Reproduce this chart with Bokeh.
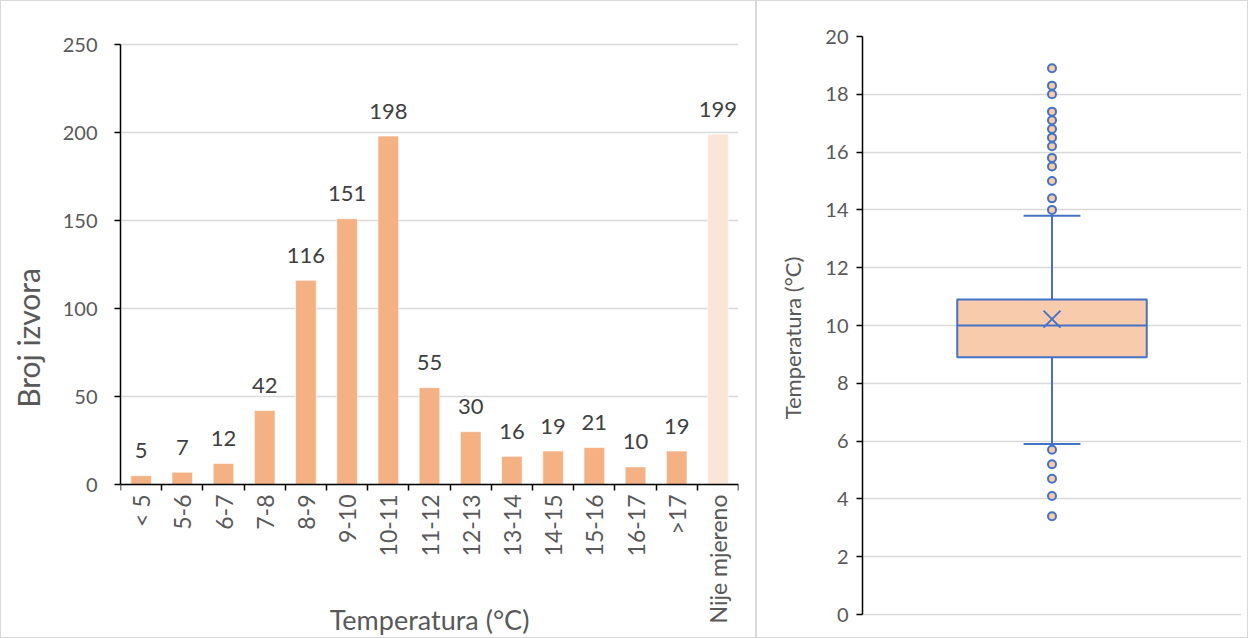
import math
from bokeh.plotting import figure
from bokeh.layouts import row
from bokeh.models import (FixedTicker, CustomJSTickFormatter,
                          ColumnDataSource, Range1d)
from bokeh.core.properties import value
from bokeh.embed import file_html
from bokeh.resources import INLINE

# ---------------- data ----------------
categories = ["< 5", "5-6", "6-7", "7-8", "8-9", "9-10", "10-11", "11-12",
              "12-13", "13-14", "14-15", "15-16", "16-17", ">17", "Nije mjereno"]
counts = [5, 7, 12, 42, 116, 151, 198, 55, 30, 16, 19, 21, 10, 19, 199]
not_measured_label = "Nije mjereno"
x_title = "Temperatura (°C)"
y_title_left = "Broj izvora"
y_title_right = "Temperatura (°C)"

y_ticks_left = [0, 50, 100, 150, 200, 250]
y_ticks_right = [0, 2, 4, 6, 8, 10, 12, 14, 16, 18, 20]

q1 = [8.9]
median = [10.0]
q3 = [10.9]
mean = [10.22]
whisker_low = [5.9]
whisker_high = [13.8]
outliers = [18.9, 18.3, 18.0, 17.4, 17.1, 16.8, 16.5, 16.2, 15.8, 15.5, 15.0, 14.4, 14.0,
            5.7, 5.2, 4.7, 4.1, 3.4]

FONT = "Lato"
AX_COL = "#595959"
LBL_COL = "#404040"
BAR = "#F4B183"
BAR_LIGHT = "#FBE5D6"
BLUE = "#4472C4"
BOX_FILL = "#F8CBAD"
GRID = "#D9D9D9"

# shared layout geometry (pixels): both frames span FRAME_TOP .. H
H = 638
FRAME_TOP = 35

# ---------------- left: histogram ----------------
n = len(categories)
xs = [i + 0.5 for i in range(n)]
colors = [BAR_LIGHT if c == not_measured_label else BAR for c in categories]
src = ColumnDataSource(dict(x=xs, top=counts, color=colors,
                            label=[str(v) for v in counts]))

L_TOP_PX, L_ZERO_PX, L_MAX = 43, 483, 250
l_ppu = (L_ZERO_PX - L_TOP_PX) / L_MAX
left_range = Range1d(-(H - L_ZERO_PX) / l_ppu, L_MAX + (L_TOP_PX - FRAME_TOP) / l_ppu)

p = figure(width=756, height=H, output_backend="svg", toolbar_location=None,
           x_range=Range1d(0, n), y_range=left_range,
           min_border_left=119, min_border_right=19, min_border_top=FRAME_TOP,
           min_border_bottom=0)
p.outline_line_color = None
p.background_fill_color = "white"
p.border_fill_color = "white"
p.styles = {"border": "1px solid #D9D9D9", "box-sizing": "border-box"}

p.vbar(x="x", top="top", width=0.5, bottom=0, color="color",
       line_color="white", line_alpha=0.6, source=src)
p.text(x="x", y="top", text="label", source=src, text_align="center",
       text_baseline="alphabetic", y_offset=-25, text_font=value(FONT),
       text_font_size="22px", text_color=LBL_COL)

p.xgrid.visible = False
p.ygrid.grid_line_color = GRID
p.ygrid.grid_line_width = 1.5
p.ygrid.ticker = FixedTicker(ticks=y_ticks_left)

ya = p.yaxis[0]
ya.ticker = FixedTicker(ticks=y_ticks_left)
ya.bounds = (0, L_MAX)
ya.axis_label = y_title_left
ya.axis_label_text_font = FONT
ya.axis_label_text_font_size = "30px"
ya.axis_label_text_font_style = "normal"
ya.axis_label_text_color = AX_COL
ya.axis_label_standoff = 14
ya.major_label_text_font = FONT
ya.major_label_text_font_size = "20px"
ya.major_label_text_color = AX_COL
ya.major_label_standoff = 17
ya.major_tick_in = 0
ya.major_tick_out = 6
ya.minor_tick_line_color = None
ya.axis_line_color = "black"
ya.axis_line_width = 1.5
ya.major_tick_line_color = "black"
ya.major_tick_line_width = 1.5

xa = p.xaxis[0]
xa.fixed_location = 0
xa.ticker = FixedTicker(ticks=xs, minor_ticks=list(range(n + 1)))
xa.formatter = CustomJSTickFormatter(args=dict(labels=categories),
                                     code="return labels[Math.floor(tick)];")
xa.major_label_orientation = math.pi / 2
xa.major_label_text_font = FONT
xa.major_label_text_font_size = "23px"
xa.major_label_text_color = AX_COL
xa.major_label_standoff = 4
xa.major_tick_in = 0
xa.major_tick_out = 0
xa.major_tick_line_color = None
xa.minor_tick_in = 0
xa.minor_tick_out = 6
xa.minor_tick_line_color = "black"
xa.minor_tick_line_width = 1.5
xa.axis_line_color = "black"
xa.axis_line_width = 1.5

# x-axis title drawn inside the (extended) frame, below the rotated tick labels
title_y = -(618 - L_ZERO_PX) / l_ppu
p.text(x=[n / 2], y=[title_y], text=[x_title], text_align="center",
       text_baseline="middle", text_font=value(FONT), text_font_size="27px",
       text_color=AX_COL)

# ---------------- right: box plot ----------------
R_ZERO_PX, R_MAX = 613, 20
r_ppu = (R_ZERO_PX - FRAME_TOP) / R_MAX
right_range = Range1d(-(H - R_ZERO_PX) / r_ppu, R_MAX)

q = figure(width=492, height=H, output_backend="svg", toolbar_location=None,
           x_range=Range1d(0, 1), y_range=right_range, x_axis_location=None,
           min_border_left=105, min_border_right=8, min_border_top=FRAME_TOP,
           min_border_bottom=0)
q.outline_line_color = None
q.styles = {"border": "1px solid #D9D9D9", "box-sizing": "border-box"}
q.xgrid.visible = False
q.ygrid.grid_line_color = GRID
q.ygrid.grid_line_width = 1.5
q.ygrid.ticker = FixedTicker(ticks=y_ticks_right)

CX, BOX_W, CAP_W = 0.5, 0.5, 0.15
bsrc = ColumnDataSource(dict(x=[CX], q1=q1, q3=q3, med=median, mean=mean,
                             lo=whisker_low, hi=whisker_high,
                             bl=[CX - BOX_W / 2], br=[CX + BOX_W / 2],
                             cl=[CX - CAP_W / 2], cr=[CX + CAP_W / 2]))
# whiskers
q.segment(x0="x", y0="q3", x1="x", y1="hi", source=bsrc, line_color=BLUE, line_width=2)
q.segment(x0="x", y0="q1", x1="x", y1="lo", source=bsrc, line_color=BLUE, line_width=2)
q.segment(x0="cl", y0="hi", x1="cr", y1="hi", source=bsrc, line_color=BLUE, line_width=2)
q.segment(x0="cl", y0="lo", x1="cr", y1="lo", source=bsrc, line_color=BLUE, line_width=2)
# box
q.vbar(x="x", bottom="q1", top="q3", width=BOX_W, source=bsrc, fill_color=BOX_FILL,
       line_color=BLUE, line_width=2)
q.segment(x0="bl", y0="med", x1="br", y1="med", source=bsrc, line_color=BLUE,
          line_width=2)
q.scatter(x="x", y="mean", marker="x", size=24, source=bsrc, line_color=BLUE,
          line_width=2)
# outliers
q.scatter(x=[CX] * len(outliers), y=outliers, marker="circle", size=8,
          fill_color=BOX_FILL, line_color=BLUE, line_width=2)

qa = q.yaxis[0]
qa.ticker = FixedTicker(ticks=y_ticks_right)
qa.bounds = (0, R_MAX)
qa.axis_label = y_title_right
qa.axis_label_text_font = FONT
qa.axis_label_text_font_size = "22px"
qa.axis_label_text_font_style = "normal"
qa.axis_label_text_color = AX_COL
qa.axis_label_standoff = 16
qa.major_label_text_font = FONT
qa.major_label_text_font_size = "20px"
qa.major_label_text_color = AX_COL
qa.major_label_standoff = 8
qa.major_tick_in = 0
qa.major_tick_out = 6
qa.minor_tick_line_color = None
qa.axis_line_color = "black"
qa.axis_line_width = 1.5
qa.major_tick_line_color = "black"
qa.major_tick_line_width = 1.5

layout = row(p, q, spacing=0)
open("out.html", "w").write(file_html(layout, INLINE))
